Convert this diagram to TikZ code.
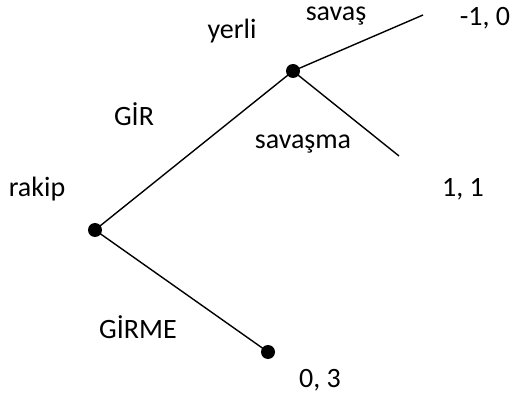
\documentclass[tikz,border=0pt]{standalone}
\usepackage{fontspec}
\setmainfont{Carlito}
\begin{document}
\begin{tikzpicture}[x=1pt,y=-1pt,
  dot/.style={circle,fill=black,inner sep=0pt,minimum size=14pt},
  lbl/.style={inner sep=0pt,font=\fontsize{28}{32}\selectfont},
  edge/.style={line width=1.4pt}]
\useasboundingbox (0,0) rectangle (514,398);
\node[dot] (r) at (95,230) {};
\node[dot] (y) at (293,71) {};
\node[dot] (g) at (268,352) {};
\coordinate (s) at (423,15);
\coordinate (sm) at (399,156);
\draw[edge] (r.center) -- (y.center);
\draw[edge] (r.center) -- (g.center);
\draw[edge] (y.center) -- (s);
\draw[edge] (y.center) -- (sm);
\node[lbl] (ly) at (232,31) {yerli};
\node[lbl] (ls) at (336,16) {savaş};
\node[lbl] (p1) at (485,18) {-1, 0};
\node[lbl] (lsm) at (303,144) {savaşma};
\node[lbl] (p2) at (463,189) {1, 1};
\node[lbl] (lg) at (134,114) {GİR};
\node[lbl] (lr) at (37,189) {rakip};
\node[lbl] (lgm) at (138,327) {GİRME};
\node[lbl] (p3) at (320,380) {0, 3};
\end{tikzpicture}
\end{document}
